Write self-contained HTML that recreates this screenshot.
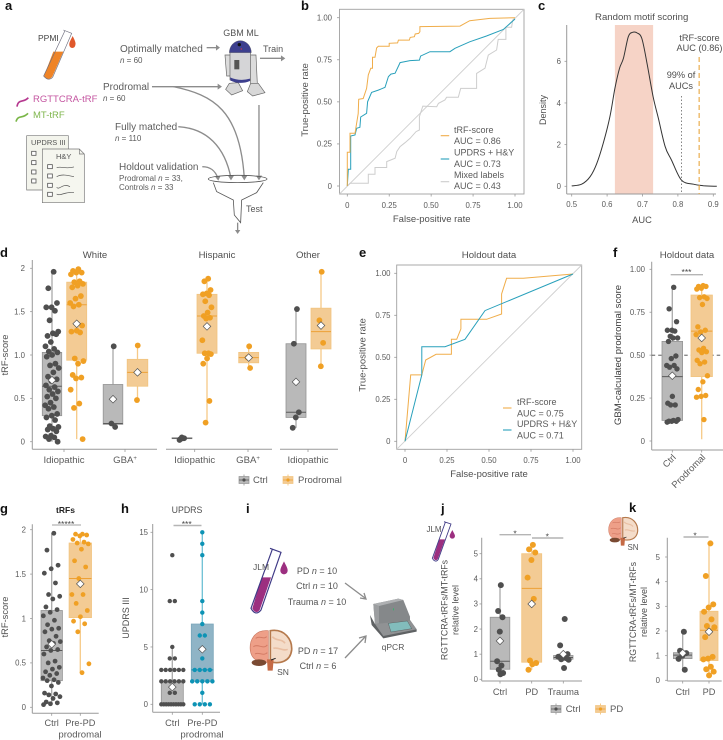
<!DOCTYPE html>
<html lang="en">
<head>
<meta charset="utf-8">
<title>tRF-score figure</title>
<style>
html,body{margin:0;padding:0;background:#fff;}
svg{display:block;font-family:"Liberation Sans",sans-serif;}
.pl{font-size:13px;font-weight:bold;fill:#111;}
.sch{font-size:10px;fill:#5c5c5c;}
.sub{font-size:8px;fill:#5c5c5c;}
</style>
</head>
<body>
<svg id="figure" xmlns="http://www.w3.org/2000/svg" width="723" height="740" viewBox="0 0 723 740">
<rect x="0" y="0" width="723" height="740" fill="#fff"/>

<g>
<text class="pl" x="5" y="10">a</text>
<text class="pl" x="301" y="10">b</text>
<text class="pl" x="538" y="10">c</text>
<text class="pl" x="0" y="257">d</text>
<text class="pl" x="359" y="257">e</text>
<text class="pl" x="613" y="257">f</text>
<text class="pl" x="0" y="513">g</text>
<text class="pl" x="121" y="513">h</text>
<text class="pl" x="246" y="513">i</text>
<text class="pl" x="441" y="513">j</text>
<text class="pl" x="629" y="512">k</text>
</g>

<!-- Panel a: schematic -->
<g>
 <g transform="scale(.3333)">
  <path d="M160,155L190,155L157,230Q145,245 132,228Z" fill="#ef8427"/>
  <path d="M190,90L215,100L158,232Q145,245 131,228L195,92" fill="none" stroke="#6f6f7f" stroke-width="2"/>
  <path d="M218,108C226,124 228,130 226,135A9,9 0 0 1 208,135C207,128 212,120 218,108Z" fill="#e0582b"/>
  <path d="M51,320C55,295 70,310 85,293" fill="none" stroke="#b5388f" stroke-width="5"/>
  <path d="M48,365C55,342 68,358 84,340" fill="none" stroke="#7ab648" stroke-width="5"/>
  <path d="M80,407H205V570H80Z" fill="#f3f4ec" stroke="#777" stroke-width="2"/>
  <path d="M127,447H238L253,462V608H127Z" fill="#f5f6ef" stroke="#777" stroke-width="2"/>
  <path d="M238,447V462H253" fill="none" stroke="#777" stroke-width="2"/>
  <g fill="#fff" stroke="#555" stroke-width="2.4">
   <rect x="95" y="454" width="13" height="12"/>
   <rect x="95" y="482" width="13" height="12"/>
   <rect x="95" y="510" width="13" height="12"/>
   <rect x="95" y="537" width="13" height="12"/>
   <rect x="143" y="494" width="14" height="12"/>
   <rect x="143" y="522" width="14" height="12"/>
   <rect x="143" y="550" width="14" height="12"/>
   <rect x="143" y="577" width="14" height="12"/>
  </g>
  <g fill="none" stroke="#555" stroke-width="2">
   <path d="M170,503C185,498 195,508 222,501"/>
   <path d="M170,530C185,522 200,525 222,530"/>
   <path d="M170,562C178,572 188,548 210,560"/>
   <path d="M170,582C180,590 195,574 222,578"/>
  </g>
 </g>
 <text x="38" y="41" style="font-size:8.5px" fill="#444">PPMI</text>
 <text x="33" y="102" style="font-size:9.5px" fill="#c455a0">RGTTCRA-tRF</text>
 <text x="33" y="118" style="font-size:9.5px" fill="#7fb64d">MT-tRF</text>
 <text x="31" y="145" style="font-size:7.5px" fill="#555">UPDRS III</text>
 <text x="56" y="159" style="font-size:7.5px" fill="#555">H&amp;Y</text>

 <text class="sch" x="120" y="52">Optimally matched</text>
 <text class="sub" x="120" y="63"><tspan font-style="italic">n</tspan> = 60</text>
 <text class="sch" x="103" y="90">Prodromal</text>
 <text class="sub" x="103" y="101"><tspan font-style="italic">n</tspan> = 60</text>
 <text class="sch" x="115" y="130">Fully matched</text>
 <text class="sub" x="115" y="141"><tspan font-style="italic">n</tspan> = 110</text>
 <text class="sch" x="119" y="170">Holdout validation</text>
 <text class="sub" x="119" y="181">Prodromal <tspan font-style="italic">n</tspan> = 33,</text>
 <text class="sub" x="119" y="190">Controls <tspan font-style="italic">n</tspan> = 33</text>
 <text x="241" y="36" text-anchor="middle" style="font-size:9px" fill="#555">GBM ML</text>
 <text x="263" y="52" style="font-size:9px" fill="#555">Train</text>
 <text x="246" y="212" style="font-size:9px" fill="#555">Test</text>

 <g transform="scale(.3333)">
  <path d="M688,250L715,248L728,272L695,285L677,268Z" fill="#d8d8d8" stroke="#666" stroke-width="2"/>
  <path d="M675,165H692V228H680Z" fill="#dcdcdc" stroke="#666" stroke-width="2"/>
  <path d="M748,165H768L772,250H752Z" fill="#dcdcdc" stroke="#666" stroke-width="2"/>
  <path d="M752,250H775L795,278L758,288L742,275Z" fill="#d8d8d8" stroke="#666" stroke-width="2"/>
  <path d="M690,155H752V240Q720,252 690,240Z" fill="#d5d5d7" stroke="#666" stroke-width="2"/>
  <path d="M688,158A33,36 0 0 1 754,158Z" fill="#3d3f8e" stroke="#555" stroke-width="1"/>
  <path d="M690,232Q720,245 750,236V243Q720,255 692,242Z" fill="#3d3f8e"/>
  <rect x="703" y="180" width="15" height="28" fill="#555"/>
  <circle cx="718" cy="134" r="5" fill="#111"/>
  <circle cx="724" cy="147" r="2" fill="#e33"/>
 </g>
 <g transform="scale(.3333)" fill="none" stroke="#8c8c8c" stroke-width="4">
  <path d="M620,143H655"/>
  <path d="M648,134L660,143L648,152" fill="#8c8c8c" stroke="none"/>
  <path d="M780,175H850"/>
  <path d="M843,166L856,175L843,184" fill="#8c8c8c" stroke="none"/>
  <path d="M456,260H660"/>
  <path d="M653,251L666,260L653,269" fill="#8c8c8c" stroke="none"/>
  <path d="M520,260C640,285 720,330 733,535"/>
  <path d="M724,527L733,541L742,527" fill="#8c8c8c" stroke="none"/>
  <path d="M535,380C620,385 675,440 693,535"/>
  <path d="M684,527L693,541L702,527" fill="#8c8c8c" stroke="none"/>
  <path d="M607,500C630,500 645,510 654,535"/>
  <path d="M645,530L655,542L662,527" fill="#8c8c8c" stroke="none"/>
  <path d="M777,315V535"/>
  <path d="M768,527L777,541L786,527" fill="#8c8c8c" stroke="none"/>
  <path d="M713,668V695"/>
  <path d="M705,690L713,702L721,690" fill="#8c8c8c" stroke="none"/>
 </g>
 <g transform="scale(.3333)" fill="none" stroke="#555" stroke-width="2.4">
  <path d="M640,548L650,575L700,600L703,645L722,668L725,600L770,578L790,548"/>
  <ellipse cx="713" cy="537" rx="88" ry="11"/>
 </g>
</g>

<!-- Panel i: schematic -->
<defs>
 <g id="brain-art">
  <path d="M100,392C60,388 42,420 46,452C50,478 70,490 100,486Z" fill="#ee9f88" stroke="#c9775f" stroke-width="2"/>
  <path d="M106,392C150,385 172,420 170,450C166,485 135,492 106,486Z" fill="#f4dcc9" stroke="#b5794c" stroke-width="5"/>
  <path d="M62,415C75,405 85,420 95,410M55,440C70,430 85,450 97,435M60,462C72,455 85,470 97,458" fill="none" stroke="#d47c66" stroke-width="3"/>
  <path d="M112,410C125,425 140,415 150,430M115,445C130,440 145,455 158,448" fill="none" stroke="#e9bfa3" stroke-width="5"/>
  <ellipse cx="72" cy="488" rx="22" ry="10" fill="#7a4a32"/>
  <path d="M96,478H116L113,512H98Z" fill="#c56a45"/>
  <path d="M108,480L122,475" stroke="#222" stroke-width="3"/>
 </g>
</defs>
<g>
 <g transform="translate(235,500) scale(.3333)">
  <path d="M80,232H108L74,330Q62,345 52,325Z" fill="#9c2f80"/>
  <path d="M105,145L138,157L78,330Q62,350 48,325L112,148" fill="none" stroke="#3f3a86" stroke-width="3.5"/>
  <path d="M147,184C155,200 158,205 158,212A11,11 0 0 1 136,212C136,205 140,198 147,184Z" fill="#9c2f80"/>
 </g>
 <use href="#brain-art" transform="translate(235,500) scale(.3333)"/>
 <text x="261" y="570" text-anchor="middle" style="font-size:8.5px" fill="#555">JLM</text>
 <text x="283" y="675" text-anchor="middle" style="font-size:8.5px" fill="#555">SN</text>
 <text x="317" y="574" text-anchor="middle" style="font-size:9px" fill="#555">PD <tspan font-style="italic">n</tspan> = 10</text>
 <text x="317" y="589" text-anchor="middle" style="font-size:9px" fill="#555">Ctrl <tspan font-style="italic">n</tspan> = 10</text>
 <text x="317" y="605" text-anchor="middle" style="font-size:9px" fill="#555">Trauma <tspan font-style="italic">n</tspan> = 10</text>
 <text x="318" y="654" text-anchor="middle" style="font-size:9px" fill="#555">PD <tspan font-style="italic">n</tspan> = 17</text>
 <text x="318" y="669" text-anchor="middle" style="font-size:9px" fill="#555">Ctrl <tspan font-style="italic">n</tspan> = 6</text>
 <path d="M345,583L365,598M360,598L366,599L364,593" fill="none" stroke="#8c8c8c" stroke-width="1.3"/>
 <path d="M345,658L365,637M359,638L366,636L365,643" fill="none" stroke="#8c8c8c" stroke-width="1.3"/>
 <g transform="translate(235,500) scale(.3333)">
  <path d="M405,345L420,372L525,360L545,388V395L445,415L410,375Z" fill="#5f6264"/>
  <path d="M420,372L525,360L545,388L445,408Z" fill="#909294"/>
  <path d="M415,312L490,296L505,300L525,350V362L420,372Z" fill="#85888a"/>
  <path d="M415,312L490,296L505,300L432,318Z" fill="#aeb0b2"/>
  <path d="M415,312L432,318V370L420,372Z" fill="#9c9ea0"/>
  <path d="M460,370L517,363L530,386L468,396Z" fill="#82bcbc" stroke="#444" stroke-width="1"/>
  <rect x="474" y="325" width="3" height="6" fill="#37b36b"/>
 </g>
 <text x="393" y="650" text-anchor="middle" style="font-size:8.5px" fill="#555">qPCR</text>
</g>

<!-- Panel j / k small illustrations -->
<g transform="translate(235,500) scale(.3333)">
 <path d="M613,118H630L609,176Q602,186 595,174Z" fill="#9c2f80"/>
 <path d="M627,65L648,72L610,178Q601,190 592,175L631,67" fill="none" stroke="#3f3a86" stroke-width="2.6"/>
 <path d="M652,90C657,100 660,104 660,108A8,8 0 0 1 644,108C644,104 648,98 652,90Z" fill="#9c2f80"/>
</g>
<text x="434" y="532" text-anchor="middle" style="font-size:8px" fill="#555">JLM</text>
<use href="#brain-art" transform="translate(598,426.2) scale(.2333)"/>
<text x="633" y="550" text-anchor="middle" style="font-size:8px" fill="#555">SN</text>

<g id="charts"></g>

<script>
// ---------- Panel b: ROC data ----------
const bTrfFpr = [0,0,.016,.016,.046,.065,.068,.095,.115,.125,.14,.15,.15,.165,.175,.185,.25,.25,.30,.305,.37,.375,.40,.405,.425,.433,.433,.672,.73,.85,1];
const bTrfTpr = [0,.2,.2,.313,.313,.43,.515,.52,.58,.66,.70,.70,.765,.765,.82,.83,.83,.848,.85,.867,.867,.883,.887,.903,.907,.917,.947,.95,.982,.996,1];
const bUpdrsFpr = [0,.006,.02,.02,.046,.056,.075,.08,.115,.121,.145,.185,.225,.245,.26,.285,.315,.374,.43,.437,.493,.612,.642,.73,.83,.93,1];
const bUpdrsTpr = [0,.1,.1,.297,.303,.343,.349,.41,.432,.50,.556,.57,.586,.65,.665,.67,.733,.745,.748,.772,.798,.798,.818,.857,.891,.93,.992];
const bMixedFpr = [0,.016,.125,.125,.165,.165,.235,.235,.285,.295,.315,.344,.374,.41,.43,.43,.45,.533,.543,.582,.592,.662,.676,.771,.771,.821,.841,.89,.90,.946,.946,.98,.986,1];
const bMixedTpr = [0,.016,.016,.07,.07,.11,.11,.145,.165,.205,.234,.257,.283,.323,.333,.412,.475,.471,.491,.511,.527,.527,.58,.58,.669,.70,.778,.808,.871,.871,.943,.943,.986,1];
const rocTicks = [0,.25,.5,.75,1];
const rocTickLabels = ['0','0.25','0.50','0.75','1.00'];

// ---------- Panel c: density data ----------
const cAuc = [.5,.528,.552,.571,.589,.608,.622,.635,.646,.66,.672,.685,.698,.712,.73,.745,.764,.782,.81,.844,.872,.91];
const cDensity = [.02,.1,.46,1.1,2.06,3.34,4.7,5.66,6.14,7.18,7.39,7.36,7.1,5.98,4.3,3.26,1.9,1.26,.3,.1,.03,0];
const cXTicks = [.5,.6,.7,.8,.9];
const cYTicks = [0,2,4,6];
const cBand = [.622,.73];
const cPercentile99 = .81;
const cScoreAuc = .86;

// ---------- Panel d: tRF-score by ethnicity ----------
const dWhiteIdioCtrl = [1.96,1.77,1.6,1.55,1.55,1.51,1.4,1.27,1.25,1.22,1.24,1.15,1.1,1.07,1.04,1.03,1,.98,.9,.88,.85,.8,.75,.72,.7,.65,.63,.6,.58,.55,.52,.5,.45,.42,.4,.38,.32,.3,.28,.25,.18,.17,.15,.14,.12,.07,.06,.05,.03,0];
const dWhiteIdioPro = [1.99,1.97,1.95,1.95,1.93,1.85,1.84,1.82,1.8,1.78,1.68,1.65,1.6,1.58,1.56,1.34,1.28,1.27,1.26,.96,.93,.9,.77,.74,.73,.6,.44,.39,.03];
const dWhiteGbaCtrl = [1.1,.21,.17];
const dWhiteGbaPro = [1.11,.48];
const dHispIdioCtrl = [.04,.03,.04,.05,.02,.04];
const dHispIdioPro = [1.88,1.85,1.75,1.71,1.7,1.69,1.62,1.55,1.49,1.45,1.43,1.42,1.17,1.02,1.02,1.01,.96,.9,.47,.22];
const dHispGbaPro = [1.1,.97,.85];
const dOtherCtrl = [1.53,1.13,.34,.28,.16];
const dOtherPro = [1.96,1.4,1.14,.87];
// box summaries: low whisker, q1, median, q3, high whisker, mean
const dWhiteIdioCtrlBox = [0,.3,.64,1.03,1.96,.71];
const dWhiteIdioProBox = [.03,.94,1.58,1.84,1.99,1.36];
const dWhiteGbaCtrlBox = [.17,.2,.21,.66,1.1,.49];
const dWhiteGbaProBox = [.48,.64,.8,.95,1.11,.8];
const dHispIdioCtrlBox = [.02,.035,.04,.045,.05,null];
const dHispIdioProBox = [.22,1.02,1.45,1.7,1.88,1.33];
const dHispGbaProBox = [.85,.91,.97,1.03,1.1,.97];
const dOtherCtrlBox = [.16,.28,.34,1.13,1.53,.69];
const dOtherProBox = [.87,1.07,1.27,1.54,1.96,1.34];
const dTicks = [0,.5,1,1.5,2];
const dTickLabels = ['0','0.5','1.0','1.5','2'];

// ---------- Panel e: holdout ROC ----------
const eTrfFpr = [0,.034,.1,.123,.185,.276,.276,.308,.333,.333,.486,.575,.575,.605,.704,1];
const eTrfTpr = [0,.395,.395,.484,.518,.518,.607,.607,.669,.726,.726,.758,.877,.97,.97,.996];
const eUpdrsFpr = [0,.1,.1,.238,.357,.476,1];
const eUpdrsTpr = [0,.395,.563,.563,.607,.778,.996];

// ---------- Panel f ----------
const fCtrl = [.895,.77,.695,.645,.645,.64,.61,.6,.6,.58,.495,.48,.44,.44,.43,.42,.26,.22,.21,.21,.125,.12,.115,.115,.115,.11];
const fPro = [.905,.9,.9,.89,.885,.84,.835,.83,.795,.665,.645,.635,.62,.54,.53,.52,.515,.47,.46,.45,.38,.345,.3,.265,.26,.255,.125];
const fCtrlBox = [.12,.12,.375,.58,.895,.38];
const fProBox = [.01,.375,.64,.85,.905,.6];
const fTicks = [0,.25,.5,.75,1];
const fTickLabels = ['0','0.25','0.50','0.75','1.00'];

// ---------- Panel g ----------
const gCtrl = [1.96,1.77,1.6,1.56,1.51,1.4,1.27,1.25,1.22,1.13,1.1,1.07,1.03,.98,.93,.89,.88,.85,.8,.75,.74,.72,.68,.65,.64,.6,.52,.5,.45,.43,.4,.38,.36,.33,.31,.3,.28,.24,.16,.15,.14,.12,.1,.06,.05,.04,.03];
const gPre = [1.95,1.95,1.94,1.93,1.89,1.86,1.85,1.84,1.78,1.65,1.58,1.45,1.27,1.27,1.17,1.09,1.02,.97,.94,.85,.49,.39];
const gCtrlBox = [.03,.3,.64,1.09,1.96,.71];
const gPreBox = [.39,1.01,1.45,1.85,1.95,1.39];
const gTicks = [0,.5,1,1.5,2];
const gTickLabels = ['0','0.5','1','1.5','2'];

// ---------- Panel h ----------
const hCtrl = [13,9,9,5,4,4,3,3,3,3,3,3,2,2,2,2,2,2,1,1,0,0,0,0,0,0,0,0,0,0];
const hPre = [15,14,13,9,8,7,6,6,4,3,3,3,3,2,2,2,2,2,1,0,0,0,0];
const hCtrlBox = [0,0,0,2,5,1.5];
const hPreBox = [0,2,3,7,15,4.8];
const hTicks = [0,5,10,15];

// ---------- Panel j ----------
const jCtrl = [3.75,2.72,2.47,1.9,.72,.55,.38,.25,.2];
const jPd = [5.35,5.17,5.05,4.75,4.05,3.2,.75,.65,.6,.38];
const jTrauma = [2.4,1.35,1,.95,.9,.85,.8,.78,.45];
const jCtrlBox = [.2,.4,.72,2.47,3.75,1.53];
const jPdBox = [.38,.68,3.62,5,5.35,3];
const jTraumaBox = [.78,.8,.87,.95,.95,1];
const jTicks = [0,1,2,3,4,5];

// ---------- Panel k ----------
const kCtrl = [1.97,1.2,1.1,1,.87,.43];
const kPd = [5.55,4.23,3.08,2.95,2.78,2.47,2.2,2.15,2,1.75,.95,.88,.85,.55,.45,.35,.2];
const kCtrlBox = [.43,.88,1.02,1.12,1.97,1.1];
const kPdBox = [.2,.8,2.03,2.8,5.55,1.97];
const kTicks = [0,1,2,3,4,5];

// ---------- Helpers ----------
const NS = 'http://www.w3.org/2000/svg';
const charts = document.getElementById('charts');
const AXIS = '#9a9a9a', TICKTEXT = '#5a5a5a', TITLE = '#4f4f4f';
const GREY = {pt:'#4f4f4f', fill:'#b9b9b9', edge:'#949494', med:'#5a5a5a', whisk:'#a9a9a9'};
const ORANGE = {pt:'#f0a024', fill:'#f3cb94', edge:'#f2c47f', med:'#eea136', whisk:'#f6c987'};
const TEAL = {pt:'#0d93b5', fill:'#8fb4c6', edge:'#7aa6ba', med:'#1a8fb0', whisk:'#6cc0d4'};

function linear(d0, d1, r0, r1) {
  return v => r0 + (v - d0) * (r1 - r0) / (d1 - d0);
}
function mk(tag, name, attrs, parent) {
  const el = document.createElementNS(NS, tag);
  
  
  for (const k in attrs) el.setAttribute(k, attrs[k]);
  (parent || charts).appendChild(el);
  return el;
}
function line(name, x1, y1, x2, y2, stroke, w, parent, extra) {
  return mk('line', name, Object.assign({x1, y1, x2, y2, stroke, 'stroke-width': w}, extra || {}), parent);
}
function txt(name, x, y, s, size, fill, anchor, parent, extra) {
  const t = mk('text', name, Object.assign({x, y, fill, 'font-size': size, 'text-anchor': anchor || 'middle'}, extra || {}), parent);
  t.textContent = s;
  return t;
}
function rotTxt(name, x, y, s, size, fill, parent, weight) {
  const extra = {transform: 'rotate(-90 ' + x + ' ' + y + ')'};
  if (weight) extra['font-weight'] = weight;
  return txt(name, x, y, s, size, fill, 'middle', parent, extra);
}
function panel(name) {
  return mk('g', name, {});
}
function yAxis(g, x, top, bottom, sy, ticks, labels, labelX) {
  line('y-axis-line', x, top, x, bottom, AXIS, 1, g);
  ticks.forEach((t, i) => {
    line('y-tick', x - 2.2, sy(t), x, sy(t), AXIS, .8, g);
    txt('y-tick-label', labelX, sy(t) + 2.8, labels ? labels[i] : String(t), 7.8, TICKTEXT, 'end', g);
  });
}
function xAxisLine(g, x1, x2, y) {
  line('x-axis-line', x1, y, x2, y, AXIS, 1, g);
}
function xCat(g, x, y, s, labelY) {
  line('x-tick', x, y, x, y + 2.5, AXIS, .8, g);
  if (s) txt('x-tick-label', x, labelY, s, 9.2, TICKTEXT, 'middle', g);
}
function pathOf(xs, ys, sx, sy) {
  return xs.map((v, i) => (i ? 'L' : 'M') + sx(v).toFixed(1) + ',' + sy(ys[i]).toFixed(1)).join('');
}
function smoothPath(xs, ys, sx, sy) {
  const p = xs.map((v, i) => [sx(v), sy(ys[i])]);
  let d = 'M' + p[0][0].toFixed(1) + ',' + p[0][1].toFixed(1);
  for (let i = 0; i < p.length - 1; i++) {
    const a = p[Math.max(i - 1, 0)], b = p[i], c = p[i + 1], e = p[Math.min(i + 2, p.length - 1)];
    d += 'C' + (b[0] + (c[0] - a[0]) / 6).toFixed(1) + ',' + (b[1] + (c[1] - a[1]) / 6).toFixed(1) + ' ' +
         (c[0] - (e[0] - b[0]) / 6).toFixed(1) + ',' + (c[1] - (e[1] - b[1]) / 6).toFixed(1) + ' ' +
         c[0].toFixed(1) + ',' + c[1].toFixed(1);
  }
  return d;
}
function jitterOffset(i, spread) {
  return (((i + 1) * 0.618034) % 1 - .5) * 2 * spread;
}
// stats: low, q1, median, q3, high, mean
function boxGroup(g, name, cx, halfW, stats, values, pal, r, sy, spread, rows) {
  const grp = mk('g', name, {}, g);
  line('whisker', cx, sy(stats[0]), cx, sy(stats[4]), pal.whisk, 1.3, grp);
  const top = sy(stats[3]), bot = sy(stats[1]);
  mk('rect', 'box', {x: cx - halfW, y: top, width: halfW * 2, height: Math.max(bot - top, .3), fill: pal.fill, stroke: pal.edge, 'stroke-width': .8}, grp);
  line('median-line', cx - halfW, sy(stats[2]), cx + halfW, sy(stats[2]), pal.med, 1, grp);
  const counts = {}, seen = {};
  values.forEach(v => { counts[v] = (counts[v] || 0) + 1; });
  values.forEach((v, i) => {
    let off;
    if (rows) {
      seen[v] = (seen[v] || 0) + 1;
      const gap = Math.min(r * 2.3, (halfW * 2) / Math.max(counts[v] - 1, 1));
      off = (seen[v] - 1 - (counts[v] - 1) / 2) * gap;
    } else {
      off = jitterOffset(i, spread);
    }
    mk('circle', 'data-point', {cx: cx + off, cy: sy(v), r, fill: pal.pt}, grp);
  });
  if (stats[5] !== null) {
    const m = sy(stats[5]), s = 3.8;
    mk('polygon', 'mean-diamond', {points: [[cx, m - s], [cx + s, m], [cx, m + s], [cx - s, m]].map(p => p.join(',')).join(' '), fill: '#fff', stroke: '#555', 'stroke-width': .7}, grp);
  }
}
function bracket(g, x1, x2, y, color, w, stars, starX, starY) {
  line('significance-bracket', x1, y, x2, y, color, w, g);
  txt('significance-stars', starX, starY, stars, 8.5, '#444', 'middle', g);
}
function legendSwatch(g, x, y, pal, label, textX) {
  const s = mk('g', 'legend-entry', {}, g);
  line('legend-whisker', x + 5, y - 5.5, x + 5, y + 5.5, pal.whisk, 1, s);
  mk('rect', 'legend-box', {x, y: y - 3.5, width: 10, height: 7, fill: pal.fill, stroke: pal.edge, 'stroke-width': .7}, s);
  line('legend-median', x, y, x + 10, y, pal.med, .8, s);
  mk('circle', 'legend-dot', {cx: x + 5, cy: y, r: 1.6, fill: pal.pt}, s);
  txt('legend-label', textX, y + 3, label, 9.5, TICKTEXT, 'start', s);
}
function rocFrame(g, left, right, top, bottom, sx, sy, labelX, tickY) {
  mk('rect', 'plot-frame', {x: left, y: top, width: right - left, height: bottom - top, fill: '#fff', stroke: '#a0a0a0', 'stroke-width': .9}, g);
  line('chance-diagonal', left, bottom, right, top, '#cfcfcf', .9, g);
  rocTicks.forEach((t, i) => {
    line('x-tick', sx(t), bottom, sx(t), bottom + 2.5, AXIS, .8, g);
    txt('x-tick-label', sx(t), tickY, rocTickLabels[i], 7.8, TICKTEXT, 'middle', g);
    line('y-tick', left - 2.5, sy(t), left, sy(t), AXIS, .8, g);
    txt('y-tick-label', labelX, sy(t) + 2.8, rocTickLabels[i], 7.8, TICKTEXT, 'end', g);
  });
}
function rocCurve(g, name, xs, ys, sx, sy, color) {
  mk('path', name, {d: pathOf(xs, ys, sx, sy), fill: 'none', stroke: color, 'stroke-width': 1}, g);
}
function rocLegend(g, lx, ly, color, l1, l2, tx, y1, y2) {
  const e = mk('g', 'legend-entry', {}, g);
  line('legend-key', lx, ly, lx + 8.5, ly, color, 1.1, e);
  txt('legend-label', tx, y1, l1, 9, TICKTEXT, 'start', e);
  txt('legend-auc', tx, y2, l2, 9, TICKTEXT, 'start', e);
}

// ---------- Draw b ----------
(function () {
  const g = panel('panel-b-roc');
  const sx = linear(0, 1, 347.3, 515), sy = linear(0, 1, 186, 17.7);
  rocFrame(g, 339.5, 524, 9.3, 194, sx, sy, 332, 208);
  rocCurve(g, 'mixed-labels-curve', bMixedFpr, bMixedTpr, sx, sy, '#cdcdcd');
  rocCurve(g, 'updrs-hy-curve', bUpdrsFpr, bUpdrsTpr, sx, sy, '#28a0bb');
  rocCurve(g, 'trf-score-curve', bTrfFpr, bTrfTpr, sx, sy, '#f0ad4a');
  rocLegend(g, 440.7, 135.7, '#f0ad4a', 'tRF-score', 'AUC = 0.86', 454, 133, 144);
  rocLegend(g, 440.7, 159, '#28a0bb', 'UPDRS + H&Y', 'AUC = 0.73', 454, 155.5, 167);
  rocLegend(g, 440.7, 181.7, '#cdcdcd', 'Mixed labels', 'AUC = 0.43', 454, 178, 189);
  txt('x-axis-title', 431.7, 222, 'False-positive rate', 9.5, TITLE, 'middle', g);
  rotTxt('y-axis-title', 308, 100, 'True-positive rate', 9.5, TITLE, g);
})();

// ---------- Draw c ----------
(function () {
  const g = panel('panel-c-density');
  const sx = linear(.5, .9, 571.7, 713.3), sy = linear(0, 6, 186.3, 61.3);
  mk('rect', 'central-auc-band', {x: sx(cBand[0]), y: 25, width: sx(cBand[1]) - sx(cBand[0]), height: 169, fill: '#f6d3c6'}, g);
  yAxis(g, 566.7, 25, 194, sy, cYTicks, null, 561);
  xAxisLine(g, 566.7, 716, 194);
  cXTicks.forEach(t => {
    line('x-tick', sx(t), 194, sx(t), 196.5, AXIS, .8, g);
    txt('x-tick-label', sx(t), 207, String(t), 7.8, TICKTEXT, 'middle', g);
  });
  mk('path', 'density-curve', {d: smoothPath(cAuc, cDensity, sx, sy), fill: 'none', stroke: '#333', 'stroke-width': 1}, g);
  line('percentile-99-line', sx(cPercentile99), 96, sx(cPercentile99), 194, '#666', .8, g, {'stroke-dasharray': '1.5 2'});
  line('trf-score-auc-line', sx(cScoreAuc), 57, sx(cScoreAuc), 194, '#e8a73e', 1.1, g, {'stroke-dasharray': '5 3'});
  txt('panel-title', 641.7, 20, 'Random motif scoring', 9.6, TITLE, 'middle', g);
  txt('x-axis-title', 642, 223, 'AUC', 9.3, TITLE, 'middle', g);
  rotTxt('y-axis-title', 546, 110, 'Density', 9, TITLE, g);
  txt('trf-score-annotation', 699.5, 41, 'tRF-score', 9.2, TITLE, 'middle', g);
  txt('trf-auc-annotation', 699.5, 51, 'AUC (0.86)', 9.2, TITLE, 'middle', g);
  txt('percentile-annotation', 681, 78, '99% of', 9.2, TITLE, 'middle', g);
  txt('percentile-annotation-line-2', 681, 89, 'AUCs', 9.2, TITLE, 'middle', g);
})();

// ---------- Draw d ----------
(function () {
  const g = panel('panel-d-ethnicity-boxplots');
  const sy = linear(0, 2, 441.7, 268.3);
  yAxis(g, 32.3, 260, 449.3, sy, dTicks, dTickLabels, 25);
  xAxisLine(g, 32.3, 157, 449.3);
  xAxisLine(g, 166, 272, 449.3);
  xAxisLine(g, 280, 338, 449.3);
  [[64, 'Idiopathic'], [125, 'GBA'], [194.7, 'Idiopathic'], [248, 'GBA'], [308, 'Idiopathic']].forEach(c => {
    line('x-tick', c[0], 449.3, c[0], 452, AXIS, .8, g);
    const t = txt('x-tick-label', c[0], 463, c[1], 9.6, TICKTEXT, 'middle', g);
    if (c[1] === 'GBA') {
      const sup = document.createElementNS(NS, 'tspan');
      
      
      sup.setAttribute('dy', '-3');
      sup.setAttribute('font-size', '6');
      sup.textContent = '+';
      t.appendChild(sup);
    }
  });
  txt('facet-title-white', 95, 258, 'White', 9.6, TITLE, 'middle', g);
  txt('facet-title-hispanic', 217, 258, 'Hispanic', 9.6, TITLE, 'middle', g);
  txt('facet-title-other', 308, 258, 'Other', 9.6, TITLE, 'middle', g);
  rotTxt('y-axis-title', 8, 355, 'tRF-score', 9.3, TITLE, g);
  boxGroup(g, 'white-idiopathic-ctrl', 52, 9.7, dWhiteIdioCtrlBox, dWhiteIdioCtrl, GREY, 2.9, sy, 7);
  boxGroup(g, 'white-idiopathic-prodromal', 76.7, 10, dWhiteIdioProBox, dWhiteIdioPro, ORANGE, 2.9, sy, 7);
  boxGroup(g, 'white-gba-ctrl', 113, 9.8, dWhiteGbaCtrlBox, dWhiteGbaCtrl, GREY, 2.9, sy, 3);
  boxGroup(g, 'white-gba-prodromal', 137.5, 10.3, dWhiteGbaProBox, dWhiteGbaPro, ORANGE, 2.9, sy, 1);
  boxGroup(g, 'hispanic-idiopathic-ctrl', 182, 10, dHispIdioCtrlBox, dHispIdioCtrl, GREY, 2.9, sy, 3);
  boxGroup(g, 'hispanic-idiopathic-prodromal', 207, 10, dHispIdioProBox, dHispIdioPro, ORANGE, 2.9, sy, 5);
  boxGroup(g, 'hispanic-gba-prodromal', 248.7, 10, dHispGbaProBox, dHispGbaPro, ORANGE, 2.9, sy, 2);
  boxGroup(g, 'other-ctrl', 296, 10, dOtherCtrlBox, dOtherCtrl, GREY, 2.9, sy, 4);
  boxGroup(g, 'other-prodromal', 321, 10, dOtherProBox, dOtherPro, ORANGE, 2.9, sy, 3);
  legendSwatch(g, 239, 480, GREY, 'Ctrl', 253);
  legendSwatch(g, 283, 480, ORANGE, 'Prodromal', 298);
})();

// ---------- Draw e ----------
(function () {
  const g = panel('panel-e-holdout-roc');
  const sx = linear(0, 1, 405, 573), sy = linear(0, 1, 441.3, 273.3);
  rocFrame(g, 396.7, 581.7, 265, 449.3, sx, sy, 390.5, 463);
  rocCurve(g, 'trf-score-curve', eTrfFpr, eTrfTpr, sx, sy, '#f0ad4a');
  rocCurve(g, 'updrs-hy-curve', eUpdrsFpr, eUpdrsTpr, sx, sy, '#28a0bb');
  rocLegend(g, 503, 408, '#f0ad4a', 'tRF-score', 'AUC = 0.75', 517, 405, 416.5);
  rocLegend(g, 503, 430, '#28a0bb', 'UPDRS + H&Y', 'AUC = 0.71', 517, 427, 438.5);
  txt('panel-title', 489, 258, 'Holdout data', 9.6, TITLE, 'middle', g);
  txt('x-axis-title', 489, 477, 'False-positive rate', 9.5, TITLE, 'middle', g);
  rotTxt('y-axis-title', 365.5, 355, 'True-positive rate', 9.5, TITLE, g);
})();

// ---------- Draw f ----------
(function () {
  const g = panel('panel-f-holdout-score');
  const sy = linear(0, 1, 441, 269.3);
  yAxis(g, 651.7, 261.7, 450, sy, fTicks, fTickLabels, 645);
  xAxisLine(g, 651.7, 723, 450);
  line('x-tick', 672.3, 450, 672.3, 452.5, AXIS, .8, g);
  line('x-tick', 701.7, 450, 701.7, 452.5, AXIS, .8, g);
  line('threshold-line', 651.7, sy(.5), 723, sy(.5), '#444', .9, g, {'stroke-dasharray': '3.5 3'});
  boxGroup(g, 'ctrl-group', 672.3, 10.3, fCtrlBox, fCtrl, GREY, 2.7, sy, 6);
  boxGroup(g, 'prodromal-group', 701.7, 10.7, fProBox, fPro, ORANGE, 2.7, sy, 6);
  bracket(g, 670.7, 703, 274.7, '#b5b5b5', 1.4, '***', 686.5, 275);
  txt('panel-title', 687, 258, 'Holdout data', 9.6, TITLE, 'middle', g);
  rotTxt('y-axis-title', 621, 355, 'GBM-calculated prodromal score', 9.6, '#3a3a3a', g);
  txt('x-tick-label', 676.5, 458, 'Ctrl', 9.2, TICKTEXT, 'end', g, {transform: 'rotate(-45 676.5 458)'});
  txt('x-tick-label', 706, 458, 'Prodromal', 9.4, TICKTEXT, 'end', g, {transform: 'rotate(-45 706 458)'});
})();

// ---------- Draw g ----------
(function () {
  const g = panel('panel-g-trf-boxplot');
  const sy = linear(0, 2, 707.3, 529.7);
  yAxis(g, 32.3, 524.3, 713.3, sy, gTicks, gTickLabels, 26);
  xAxisLine(g, 32.3, 98.7, 713.3);
  boxGroup(g, 'ctrl-group', 51.7, 10.7, gCtrlBox, gCtrl, GREY, 2.4, sy, 9);
  boxGroup(g, 'pre-pd-group', 80.3, 11.2, gPreBox, gPre, ORANGE, 2.4, sy, 9);
  xCat(g, 51.7, 713.3, 'Ctrl', 726);
  xCat(g, 80.3, 713.3, 'Pre-PD', 726);
  txt('x-tick-label-line-2', 80, 737.5, 'prodromal', 9.6, TICKTEXT, 'middle', g);
  rotTxt('y-axis-title', 8, 617, 'tRF-score', 9.3, TITLE, g);
  txt('panel-title', 65.5, 513, 'tRFs', 8.5, '#222', 'middle', g, {'font-weight': 'bold'});
  bracket(g, 52, 81, 525, '#b5b5b5', 1.3, '*****', 66, 527);
})();

// ---------- Draw h ----------
(function () {
  const g = panel('panel-h-updrs-boxplot');
  const sy = linear(0, 15, 704.3, 532.3);
  yAxis(g, 152.7, 524, 712.3, sy, hTicks, null, 148);
  xAxisLine(g, 152.7, 220, 712.3);
  boxGroup(g, 'ctrl-group', 172.3, 11, hCtrlBox, hCtrl, GREY, 2.2, sy, 0, true);
  boxGroup(g, 'pre-pd-group', 202.3, 11, hPreBox, hPre, TEAL, 2.2, sy, 0, true);
  xCat(g, 172.3, 712.3, 'Ctrl', 726);
  xCat(g, 202.3, 712.3, 'Pre-PD', 726);
  txt('x-tick-label-line-2', 202, 737.5, 'prodromal', 9.6, TICKTEXT, 'middle', g);
  rotTxt('y-axis-title', 129, 618, 'UPDRS III', 9, TITLE, g);
  txt('panel-title', 187, 513, 'UPDRS', 8.8, TITLE, 'middle', g);
  bracket(g, 173.5, 201.5, 525.5, '#b5b5b5', 1.4, '***', 186.7, 527);
})();

// ---------- Draw j ----------
(function () {
  const g = panel('panel-j-qpcr-boxplot');
  const sy = linear(0, 5, 679.3, 553.7);
  yAxis(g, 481.7, 537.7, 681, sy, jTicks, null, 478);
  xAxisLine(g, 481.7, 582, 681);
  boxGroup(g, 'ctrl-group', 500, 9.8, jCtrlBox, jCtrl, GREY, 3, sy, 3.5);
  boxGroup(g, 'pd-group', 531.7, 10, jPdBox, jPd, ORANGE, 3, sy, 5);
  boxGroup(g, 'trauma-group', 563.3, 9.7, jTraumaBox, jTrauma, GREY, 3, sy, 6);
  xCat(g, 500, 681, 'Ctrl', 695);
  xCat(g, 531.7, 681, 'PD', 695);
  xCat(g, 563.3, 681, 'Trauma', 695);
  rotTxt('y-axis-title', 447.5, 610, 'RGTTCRA-tRFs/MT-tRFs', 8.8, TITLE, g);
  rotTxt('y-axis-title-line-2', 458.5, 610, 'relative level', 9, TITLE, g);
  bracket(g, 499.5, 531, 534.7, '#b5b5b5', 1.3, '*', 515, 536.5);
  bracket(g, 532, 563.3, 538, '#666', .8, '*', 547.3, 539.5);
  legendSwatch(g, 551, 709, GREY, 'Ctrl', 565.7);
  legendSwatch(g, 595.5, 709, ORANGE, 'PD', 610);
})();

// ---------- Draw k ----------
(function () {
  const g = panel('panel-k-sn-boxplot');
  const sy = linear(0, 5, 680.3, 557);
  yAxis(g, 667.3, 537.7, 681, sy, kTicks, null, 660);
  xAxisLine(g, 667.3, 721.7, 681);
  boxGroup(g, 'ctrl-group', 682.7, 9.3, kCtrlBox, kCtrl, GREY, 3, sy, 5);
  boxGroup(g, 'pd-group', 709, 9, kPdBox, kPd, ORANGE, 3, sy, 6);
  xCat(g, 682.7, 681, 'Ctrl', 695);
  xCat(g, 709, 681, 'PD', 695);
  rotTxt('y-axis-title', 636, 612, 'RGTTCRA-tRFs/MT-tRFs', 8.8, TITLE, g);
  rotTxt('y-axis-title-line-2', 647, 612, 'relative level', 9, TITLE, g);
  bracket(g, 683.5, 708.5, 537, '#666', .8, '*', 695, 538.5);
})();
</script>
</svg>
</body>
</html>
